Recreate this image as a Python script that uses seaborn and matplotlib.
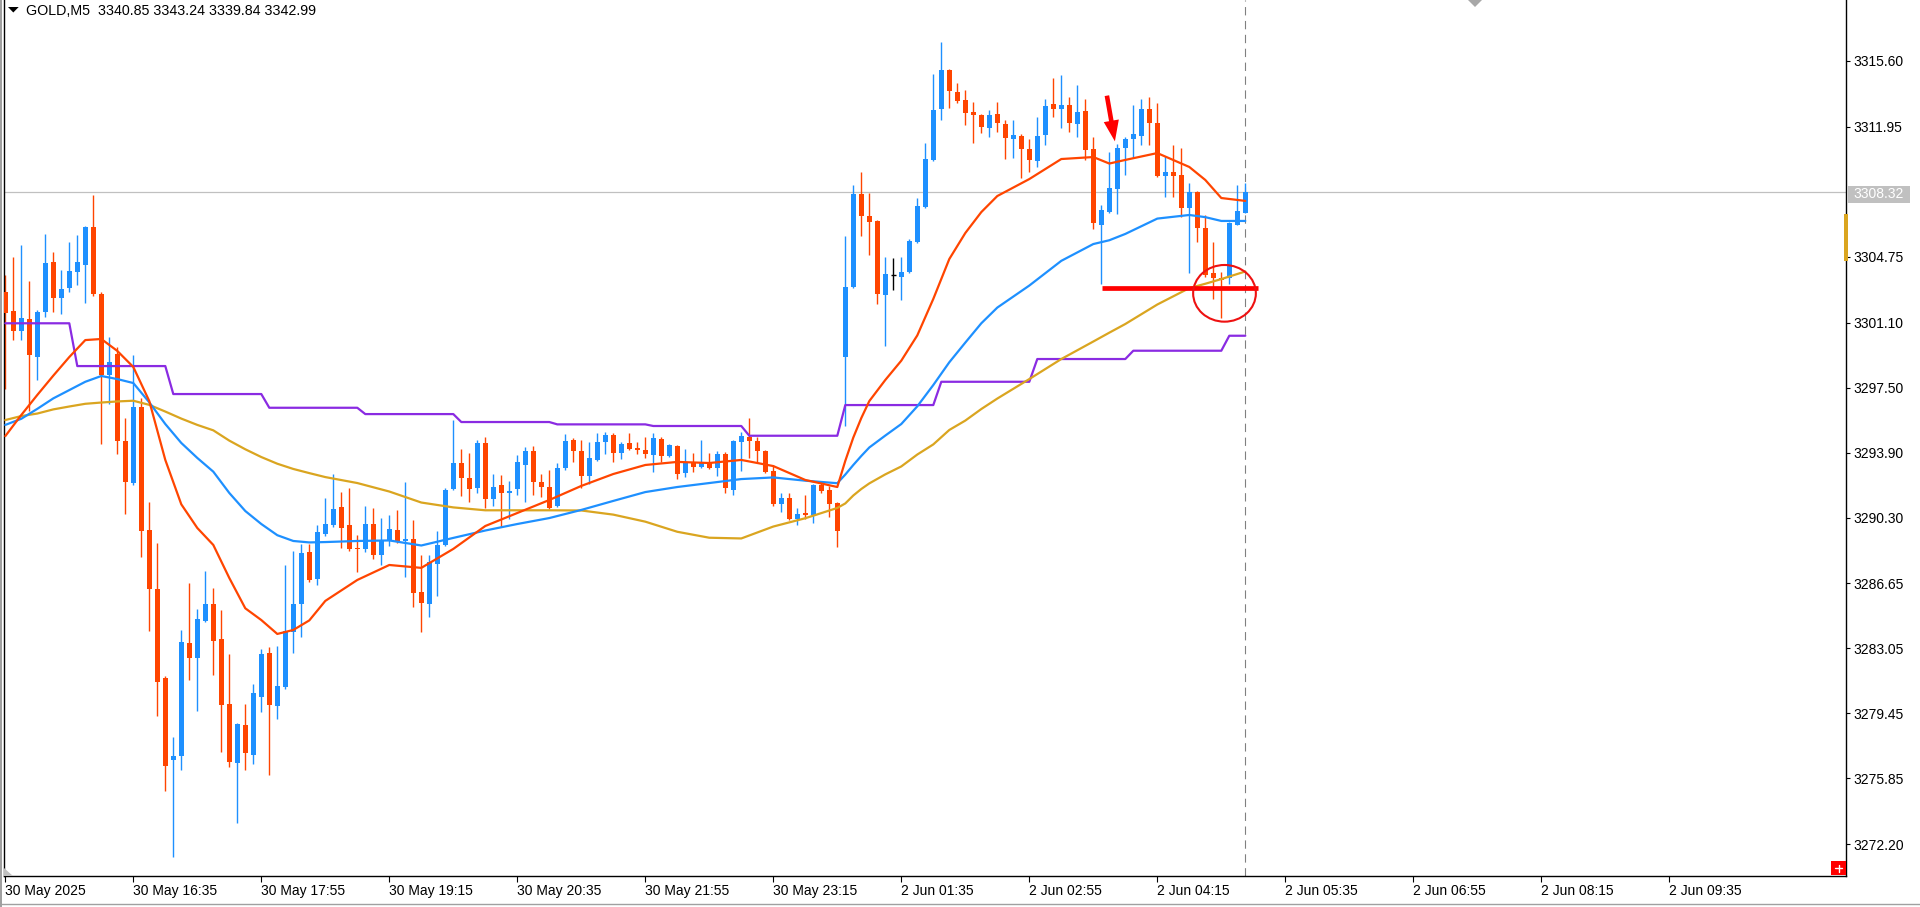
import numpy as np
import pandas as pd
import matplotlib
matplotlib.use("Agg")
import matplotlib.pyplot as plt
import seaborn as sns
from matplotlib.patches import Ellipse, Rectangle, Polygon

# --- GOLD M5 candles, 30 May 15:15 -> 2 Jun 05:10 ---
opens = [
    3302.79, 3301.74, 3300.63, 3301.30, 3299.19, 3301.69, 3304.45, 3302.46, 3303.02, 3303.90,
    3304.29, 3306.39, 3302.68, 3298.19, 3299.36, 3294.54, 3292.21, 3296.42, 3289.61, 3286.34,
    3281.41, 3276.86, 3277.08, 3283.35, 3282.51, 3284.57, 3285.51, 3283.57, 3279.97, 3276.70,
    3278.80, 3277.14, 3280.36, 3282.79, 3279.86, 3280.91, 3283.96, 3285.51, 3288.39, 3286.90,
    3289.39, 3289.88, 3290.88, 3289.88, 3288.61, 3288.56, 3289.94, 3288.22, 3289.00, 3289.61,
    3289.00, 3289.11, 3286.17, 3285.51, 3287.73, 3288.78, 3291.88, 3293.32, 3292.49, 3291.93,
    3294.43, 3291.32, 3292.10, 3291.66, 3291.88, 3293.21, 3293.98, 3292.27, 3291.99, 3290.94,
    3293.04, 3294.59, 3293.98, 3292.60, 3293.49, 3294.48, 3294.87, 3293.87, 3294.43, 3294.15,
    3294.04, 3293.76, 3294.65, 3293.71, 3294.26, 3292.77, 3293.38, 3293.10, 3293.38, 3293.04,
    3293.82, 3291.82, 3294.48, 3294.76, 3294.54, 3293.98, 3292.88, 3291.05, 3291.38, 3290.22,
    3290.55, 3290.44, 3292.10, 3291.82, 3291.10, 3299.19, 3303.07, 3308.22, 3307.00, 3306.73,
    3302.63, 3303.71, 3303.62, 3303.90, 3305.56, 3307.50, 3310.11, 3312.93, 3315.09, 3313.87,
    3313.43, 3312.77, 3312.60, 3311.88, 3312.65, 3312.10, 3311.27, 3311.44, 3310.72, 3310.05,
    3311.49, 3313.21, 3312.93, 3313.15, 3312.10, 3312.82, 3310.72, 3306.51, 3307.22, 3308.50,
    3310.77, 3311.27, 3311.44, 3312.93, 3312.16, 3309.22, 3309.44, 3309.27, 3307.45, 3308.33,
    3306.34, 3303.85, 3303.57, 3303.57, 3306.51, 3307.17,
]
highs = [
    3303.74, 3304.73, 3305.40, 3303.40, 3301.80, 3306.01, 3305.01, 3304.01, 3305.56, 3305.95,
    3306.45, 3308.17, 3302.79, 3300.30, 3299.75, 3295.81, 3299.30, 3296.92, 3291.16, 3288.89,
    3281.52, 3278.14, 3284.07, 3286.67, 3285.23, 3287.34, 3286.40, 3285.18, 3282.74, 3278.92,
    3279.97, 3281.08, 3283.02, 3283.13, 3283.18, 3287.67, 3288.45, 3288.83, 3288.83, 3289.88,
    3291.38, 3292.71, 3291.71, 3291.93, 3289.33, 3290.94, 3290.83, 3290.27, 3290.44, 3290.72,
    3292.27, 3290.16, 3288.22, 3288.22, 3289.55, 3291.93, 3295.70, 3294.10, 3293.87, 3294.59,
    3294.76, 3292.71, 3292.66, 3292.32, 3293.76, 3294.21, 3294.26, 3292.71, 3292.93, 3293.32,
    3294.93, 3294.70, 3294.59, 3294.48, 3294.98, 3295.04, 3294.98, 3294.48, 3294.98, 3294.48,
    3294.76, 3294.98, 3294.76, 3294.37, 3294.32, 3294.10, 3293.87, 3294.59, 3293.87, 3293.98,
    3293.93, 3294.59, 3295.04, 3295.81, 3294.76, 3294.05, 3293.21, 3291.66, 3291.66, 3290.83,
    3291.55, 3292.16, 3292.21, 3292.04, 3291.16, 3305.90, 3308.72, 3309.44, 3308.28, 3306.78,
    3304.73, 3304.68, 3304.73, 3305.73, 3308.00, 3311.05, 3314.87, 3316.64, 3315.15, 3314.37,
    3313.98, 3313.32, 3312.66, 3312.88, 3313.32, 3312.32, 3312.32, 3311.55, 3311.27, 3312.49,
    3313.48, 3314.65, 3314.82, 3313.60, 3314.26, 3313.48, 3311.38, 3307.61, 3310.55, 3310.99,
    3311.38, 3313.15, 3313.48, 3313.60, 3313.26, 3310.33, 3310.94, 3310.77, 3308.83, 3308.39,
    3307.06, 3305.56, 3303.90, 3306.67, 3308.72, 3308.83,
]
lows = [
    3297.42, 3300.13, 3300.13, 3296.20, 3297.92, 3301.41, 3301.69, 3301.58, 3302.79, 3303.18,
    3302.18, 3302.57, 3294.37, 3296.59, 3293.82, 3290.49, 3292.10, 3288.11, 3284.01, 3279.30,
    3275.15, 3271.49, 3276.31, 3281.30, 3279.58, 3284.50, 3281.58, 3277.31, 3276.48, 3273.38,
    3276.31, 3276.64, 3279.53, 3276.03, 3279.14, 3280.80, 3282.79, 3283.68, 3286.73, 3286.57,
    3289.30, 3289.77, 3288.61, 3288.45, 3287.28, 3288.39, 3288.00, 3287.67, 3288.72, 3288.89,
    3287.01, 3285.34, 3283.96, 3284.79, 3285.95, 3288.72, 3291.82, 3291.49, 3291.16, 3291.66,
    3290.83, 3290.94, 3289.77, 3290.22, 3291.55, 3291.16, 3291.55, 3291.44, 3290.77, 3290.88,
    3292.93, 3293.38, 3291.93, 3292.16, 3293.43, 3293.82, 3293.38, 3293.54, 3294.05, 3293.82,
    3293.60, 3292.82, 3293.38, 3293.65, 3292.43, 3292.54, 3292.82, 3293.05, 3292.99, 3292.60,
    3291.66, 3291.55, 3292.88, 3293.60, 3293.32, 3292.77, 3290.94, 3290.61, 3290.16, 3289.88,
    3290.22, 3290.00, 3291.66, 3290.33, 3288.67, 3295.37, 3303.02, 3305.90, 3304.84, 3302.13,
    3299.80, 3302.90, 3302.35, 3303.85, 3305.51, 3307.45, 3310.05, 3312.32, 3312.99, 3313.26,
    3312.05, 3311.05, 3311.60, 3311.38, 3311.66, 3310.16, 3310.22, 3309.11, 3309.44, 3309.72,
    3310.94, 3312.49, 3311.88, 3311.66, 3311.38, 3310.11, 3306.28, 3303.24, 3307.17, 3307.11,
    3309.27, 3310.22, 3310.94, 3310.94, 3309.16, 3308.06, 3308.06, 3306.95, 3303.85, 3305.56,
    3303.62, 3302.41, 3301.35, 3303.24, 3306.51, 3307.17,
]
closes = [
    3301.63, 3300.63, 3301.35, 3299.30, 3301.69, 3304.40, 3302.46, 3302.96, 3303.96, 3304.45,
    3306.39, 3302.68, 3298.19, 3298.91, 3294.54, 3292.27, 3296.42, 3289.55, 3286.34, 3281.19,
    3276.53, 3277.08, 3283.40, 3282.51, 3284.68, 3285.51, 3283.46, 3279.91, 3276.75, 3278.86,
    3277.25, 3280.58, 3282.74, 3279.91, 3280.97, 3284.01, 3285.51, 3288.34, 3286.84, 3289.50,
    3289.94, 3290.77, 3289.72, 3288.56, 3288.56, 3289.94, 3288.22, 3289.00, 3289.66, 3289.00,
    3289.11, 3286.12, 3285.57, 3287.84, 3288.78, 3291.82, 3293.32, 3292.49, 3291.88, 3294.43,
    3291.32, 3291.99, 3291.66, 3291.77, 3293.38, 3293.98, 3292.27, 3291.99, 3290.83, 3293.04,
    3294.54, 3293.98, 3292.60, 3293.60, 3294.48, 3294.87, 3293.87, 3294.37, 3294.10, 3294.04,
    3293.82, 3294.71, 3293.71, 3294.32, 3292.71, 3293.32, 3293.10, 3293.32, 3293.04, 3293.82,
    3291.93, 3294.54, 3294.82, 3294.54, 3293.98, 3292.82, 3291.05, 3291.38, 3290.22, 3290.49,
    3290.44, 3292.10, 3291.77, 3291.05, 3289.55, 3303.07, 3308.22, 3307.00, 3306.67, 3302.68,
    3303.79, 3303.71, 3303.90, 3305.62, 3307.56, 3310.16, 3312.88, 3315.09, 3313.93, 3313.37,
    3312.71, 3312.60, 3311.93, 3312.60, 3312.16, 3311.33, 3311.49, 3310.72, 3310.11, 3311.44,
    3313.10, 3312.93, 3313.15, 3312.16, 3312.77, 3310.66, 3306.62, 3307.34, 3308.55, 3310.77,
    3311.27, 3311.55, 3312.93, 3312.16, 3309.22, 3309.44, 3309.22, 3307.45, 3308.33, 3306.34,
    3303.73, 3303.57, 3303.46, 3306.62, 3307.28, 3308.32,
]

# moving averages at these bars
ma_bars = [0, 2, 4, 6, 8, 10, 12, 14, 16, 18, 20, 22, 24, 26, 28, 30, 32, 34, 36, 38,
           40, 44, 48, 52, 56, 60, 64, 68, 72, 76, 80, 84, 88, 92, 96, 100, 104, 105,
           106, 107, 108, 110, 112, 114, 116, 118, 120, 122, 124, 128, 132, 136, 138,
           140, 144, 148, 150, 152, 155]
ma_fast = [3294.81, 3295.98, 3297.09, 3298.16, 3299.19, 3300.13, 3300.19, 3299.53, 3298.64,
           3296.75, 3293.49, 3291.03, 3289.72, 3288.78, 3286.95, 3285.27, 3284.62, 3283.85,
           3284.07, 3284.60, 3285.68, 3286.84, 3287.67, 3287.51, 3288.56, 3289.83, 3290.55,
           3291.27, 3292.05, 3292.71, 3293.21, 3293.38, 3293.32, 3293.49, 3293.15, 3292.38,
           3291.99, 3293.44, 3294.73, 3295.81, 3296.75, 3297.92, 3298.99, 3300.39, 3302.41,
           3304.62, 3306.06, 3307.22, 3308.11, 3309.05, 3310.16, 3310.27, 3309.91, 3310.11,
           3310.49, 3309.72, 3309.00, 3308.00, 3307.84]
ma_mid = [3295.43, 3295.77, 3296.32, 3296.90, 3297.36, 3297.82, 3298.14, 3297.97, 3297.75,
          3296.68, 3295.48, 3294.43, 3293.60, 3292.84, 3291.66, 3290.66, 3289.94, 3289.32,
          3289.00, 3288.92, 3288.94, 3289.00, 3289.03, 3288.75, 3289.17, 3289.58, 3289.94,
          3290.27, 3290.72, 3291.22, 3291.71, 3291.99, 3292.21, 3292.43, 3292.52, 3292.34,
          3292.20, 3292.68, 3293.21, 3293.71, 3294.18, 3294.84, 3295.48, 3296.46, 3297.64,
          3298.90, 3299.99, 3301.06, 3301.93, 3303.15, 3304.52, 3305.45, 3305.66, 3306.01,
          3306.86, 3307.06, 3306.94, 3306.73, 3306.73]
ma_slow = [3295.70, 3295.92, 3296.06, 3296.29, 3296.45, 3296.60, 3296.67, 3296.73, 3296.77,
           3296.54, 3296.17, 3295.78, 3295.43, 3295.13, 3294.56, 3294.08, 3293.65, 3293.28,
           3292.99, 3292.76, 3292.54, 3292.21, 3291.74, 3291.13, 3290.86, 3290.70, 3290.70,
           3290.70, 3290.69, 3290.46, 3290.07, 3289.51, 3289.18, 3289.14, 3289.80, 3290.26,
           3290.83, 3291.08, 3291.52, 3291.88, 3292.19, 3292.69, 3293.13, 3293.79, 3294.35,
           3295.15, 3295.67, 3296.31, 3296.89, 3297.97, 3299.08, 3300.05, 3300.54, 3301.02,
           3302.10, 3303.01, 3303.25, 3303.51, 3303.93]

# hourly step level (purple): value and number of M5 bars it holds
step_levels = [3301.06, 3298.69, 3297.14, 3296.38, 3296.03, 3295.59, 3295.46, 3295.37,
               3294.83, 3296.53, 3297.82, 3299.08, 3299.54, 3300.37]
step_lengths = [9, 12, 12, 12, 12, 12, 12, 12, 12, 12, 12, 12, 12, 3]

last_price = 3308.32
support_level = 3303.00

x_tick_bars = [0, 16, 32, 48, 64, 80, 96, 112, 128, 144, 160, 176, 192, 208]
x_tick_labels = ["30 May 2025", "30 May 16:35", "30 May 17:55", "30 May 19:15",
                 "30 May 20:35", "30 May 21:55", "30 May 23:15", "2 Jun 01:35",
                 "2 Jun 02:55", "2 Jun 04:15", "2 Jun 05:35", "2 Jun 06:55",
                 "2 Jun 08:15", "2 Jun 09:35"]
y_ticks = [3315.60, 3311.95, 3304.75, 3301.10, 3297.50, 3293.90, 3290.30,
           3286.65, 3283.05, 3279.45, 3275.85, 3272.20]

BULL = "#1E90FF"
BEAR = "#FF4500"

sns.set_style("white")
plt.rcParams['font.family'] = ['Liberation Sans', 'DejaVu Sans']

W, H = 1920, 907
fig = plt.figure(figsize=(W / 100, H / 100), dpi=100)
fig.patch.set_facecolor("white")


def fx(px):
    return px / W


def fy(py):
    return 1 - py / H


ax = fig.add_axes([fx(4), fy(876), fx(1846) - fx(4), fy(0) - fy(876)])
ax.set_facecolor("white")

df = pd.DataFrame({"open": opens, "high": highs, "low": lows, "close": closes})
df["bar"] = np.arange(len(df))
df["color"] = np.where(df["close"] > df["open"], BULL,
                       np.where(df["close"] < df["open"], BEAR, "black"))

# wicks + bodies
ax.vlines(df["bar"], df["low"], df["high"], colors=df["color"], linewidth=1.0, zorder=2)
body_lo = df[["open", "close"]].min(axis=1)
body_h = (df["close"] - df["open"]).abs().clip(lower=0.06)
solid = df["close"] != df["open"]
ax.bar(df["bar"][solid], body_h[solid], bottom=body_lo[solid], width=0.62,
       color=df["color"][solid], linewidth=0, zorder=3)
doji = df[~solid]
ax.hlines(doji["open"], doji["bar"] - 0.31, doji["bar"] + 0.31, colors="black",
          linewidth=1.0, zorder=3)

# indicator lines
step_df = pd.DataFrame({"bar": np.arange(sum(step_lengths)),
                        "level": np.repeat(step_levels, step_lengths)})
ma = pd.DataFrame({"bar": ma_bars, "fast": ma_fast, "mid": ma_mid, "slow": ma_slow})
line_kw = dict(linewidth=1.6, estimator=None, ax=ax, zorder=4, solid_joinstyle="round")
sns.lineplot(data=step_df, x="bar", y="level", color="#8A2BE2", **line_kw)
sns.lineplot(data=ma, x="bar", y="slow", color="#DAA520", **line_kw)
sns.lineplot(data=ma, x="bar", y="mid", color="#1E90FF", **line_kw)
sns.lineplot(data=ma, x="bar", y="fast", color="#FF4500", **line_kw)

# current price line and last-bar marker
ax.axhline(last_price, color="#c0c0c0", linewidth=0.9, zorder=1)
ax.axvline(len(df) - 1, color="#808080", linewidth=0.8, linestyle=(0, (7.5, 5)), zorder=1)

# hand-drawn annotations
ax.plot([137.05, 156.55], [support_level, support_level], color="#FF0000",
        linewidth=3.4, solid_capstyle="butt", zorder=6)
ax.add_patch(Ellipse((152.4, 3302.72), 7.84, 3.14, fill=False, edgecolor="#EE1111",
                     linewidth=1.5, zorder=6))
ax.annotate("", xy=(138.7, 3311.14), xytext=(137.7, 3313.67),
            arrowprops=dict(arrowstyle="simple,head_length=1.5,head_width=1.1,tail_width=0.33",
                            facecolor="#FF0000", edgecolor="none", shrinkA=0, shrinkB=0),
            zorder=7)

ax.set_xlim((4 - 5.3) / 8, (1846 - 5.3) / 8)
ax.set_ylim(3270.44, 3318.97)
ax.set_xlabel("")
ax.set_ylabel("")

ax.set_xticks(x_tick_bars)
ax.set_xticklabels(x_tick_labels)
for lab in ax.get_xticklabels():
    lab.set_horizontalalignment("left")
ax.set_yticks(y_ticks)
ax.set_yticklabels([f"{v:.2f}" for v in y_ticks])
ax.yaxis.tick_right()
ax.tick_params(axis="x", bottom=True, length=4, width=0.8, pad=2, labelsize=10,
               colors="black")
ax.tick_params(axis="y", right=True, left=False, length=3, width=0.8, pad=2,
               labelsize=10, colors="black")

for side in ["left", "right", "bottom"]:
    ax.spines[side].set_visible(True)
    ax.spines[side].set_color("black")
    ax.spines[side].set_linewidth(1.0)
ax.spines["top"].set_visible(False)

# price-axis label for the last price
fig.patches.append(Rectangle((fx(1848), fy(202.5)), fx(62), 16.5 / H,
                             transform=fig.transFigure, facecolor="#c0c0c0",
                             edgecolor="none"))
fig.text(fx(1879), fy(194.3), f"{last_price:.2f}", color="white", fontsize=10,
         ha="center", va="center")
fig.patches.append(Rectangle((fx(1844), fy(261)), fx(4), 47 / H,
                             transform=fig.transFigure, facecolor="#DAA520",
                             edgecolor="none"))

# little chart furniture
fig.patches.append(Rectangle((fx(1831), fy(875)), fx(15), 14 / H,
                             transform=fig.transFigure, facecolor="#FF0000",
                             edgecolor="none"))
fig.lines.append(plt.Line2D([fx(1835), fx(1842)], [fy(868), fy(868)],
                            transform=fig.transFigure, color="white", linewidth=1))
fig.lines.append(plt.Line2D([fx(1838.5), fx(1838.5)], [fy(864.5), fy(871.5)],
                            transform=fig.transFigure, color="white", linewidth=1))
fig.patches.append(Polygon([(fx(4), fy(868)), (fx(4), fy(876)), (fx(13), fy(876))],
                           closed=True, transform=fig.transFigure,
                           facecolor="#c0c0c0", edgecolor="none"))
fig.patches.append(Polygon([(fx(1468), fy(0)), (fx(1475), fy(7)), (fx(1482), fy(0))],
                           closed=True, transform=fig.transFigure,
                           facecolor="#a8a8a8", edgecolor="none"))
fig.patches.append(Rectangle((0, 0), fx(2), 1, transform=fig.transFigure,
                             facecolor="#a0a0a0", edgecolor="none"))
fig.lines.append(plt.Line2D([0, 1], [fy(903.5), fy(903.5)], transform=fig.transFigure,
                            color="#a0a0a0", linewidth=1))

# header
fig.patches.append(Polygon([(fx(8), fy(7)), (fx(18.7), fy(7)), (fx(13.3), fy(12.5))],
                           closed=True, transform=fig.transFigure,
                           facecolor="black", edgecolor="none"))
fig.text(fx(26), fy(15), "GOLD,M5  3340.85 3343.24 3339.84 3342.99", fontsize=10.3,
         color="black", ha="left", va="baseline")

fig.savefig("out.png", dpi=100, facecolor="white")
